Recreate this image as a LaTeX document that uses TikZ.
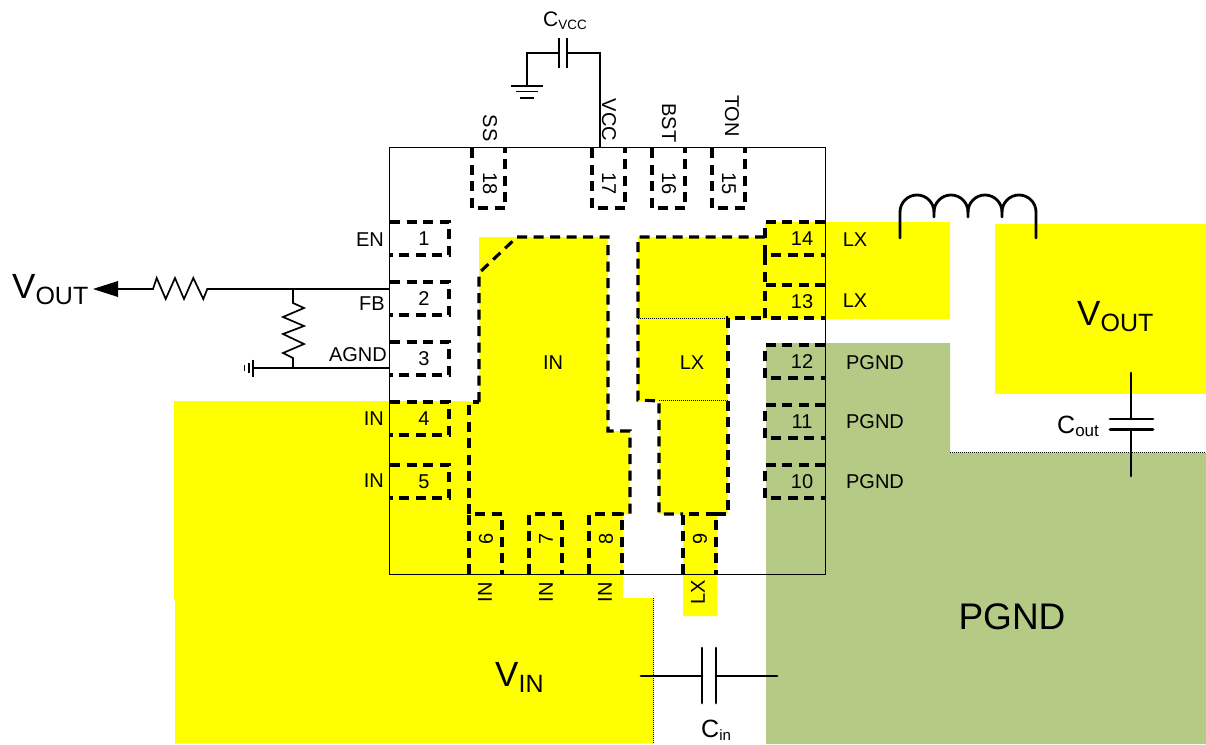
\documentclass[tikz,border=0pt]{standalone}
\usepackage{fontspec}
\setmainfont{Liberation Sans}
\definecolor{padyellow}{RGB}{255,255,0}
\definecolor{padgreen}{RGB}{181,202,133}
\newcommand{\fsz}[1]{\fontsize{#1}{#1}\selectfont}
\newcommand{\bigsub}[2]{{\fsz{35}#1}\raisebox{-6pt}{\fsz{25}#2}}
\tikzset{
  x=1pt,y=-1pt,
  pad/.style={line width=3.1pt,dash pattern=on 10pt off 6.5pt,line cap=butt,line join=miter},
  wire/.style={line width=1.7pt,line join=miter},
  heavy/.style={line width=2.8pt,line cap=round,line join=round},
  hair/.style={line width=0.5pt,dash pattern=on 1pt off 1pt},
  lab/.style={inner sep=0pt,font=\fsz{20}},
  labr/.style={lab,anchor=east},
  up/.style={lab,rotate=90},
  down/.style={lab,rotate=-90},
}
\begin{document}
\begin{tikzpicture}
\useasboundingbox (0,0) rectangle (1206,744);
% copper
\fill[padyellow] (174,401) -- (469,401) -- (469,514) -- (623,514) -- (623,598) -- (653,598) -- (653,743.5) -- (175,743.5) -- (175,600) -- (174,600) -- cycle;
\fill[padyellow] (479,237) -- (608,237) -- (608,431) -- (630,431) -- (630,514) -- (469,514) -- (469,402) -- (479,402) -- cycle;
\fill[padyellow] (765,222) -- (950,222) -- (950,319) -- (728,319) -- (728,514) -- (717,514) -- (717,616) -- (683,616) -- (683,514) -- (659,514) -- (659,401) -- (638,401) -- (638,237) -- (765,237) -- cycle;
\fill[padyellow] (995,224) rectangle (1206,394);
\fill[padgreen] (766,343) -- (950,343) -- (950,452.5) -- (1206,452.5) -- (1206,744) -- (766,744) -- cycle;
% hairlines
\draw[hair] (653,598) -- (653,744);
\draw[hair] (950,452.5) -- (1206,452.5);
\draw[hair] (638,318) -- (728,318);
\draw[hair] (659,400.5) -- (728,400.5);
% chip outline
\node[draw,line width=1.7pt,inner sep=0pt,minimum width=436pt,minimum height=427pt] (chip) at (607.5,361) {};
% pins
\draw[pad]
  (390,222) -- (449,222) -- (449,255) -- (390,255)
  (390,282) -- (449,282) -- (449,315) -- (390,315)
  (390,342) -- (449,342) -- (449,375) -- (390,375)
  (390,402) -- (449,402) -- (449,435) -- (390,435)
  (390,465) -- (449,465) -- (449,498) -- (390,498)
  (825,222) -- (765,222) -- (765,255) -- (825,255)
  (825,285) -- (765,285) -- (765,318) -- (825,318)
  (825,345) -- (765,345) -- (765,378) -- (825,378)
  (825,405) -- (765,405) -- (765,438) -- (825,438)
  (825,465) -- (765,465) -- (765,498) -- (825,498)
  (472,148) -- (472,208) -- (505,208) -- (505,148)
  (592,148) -- (592,208) -- (625,208) -- (625,148)
  (652,148) -- (652,208) -- (685,208) -- (685,148)
  (712,148) -- (712,208) -- (745,208) -- (745,148)
  (469,574) -- (469,514) -- (502,514) -- (502,574)
  (529,574) -- (529,514) -- (562,514) -- (562,574)
  (589,574) -- (589,514) -- (622,514) -- (622,574)
  (683,574) -- (683,514) -- (716,514) -- (716,574);
% exposed pad outlines
\draw[pad] (479,402) -- (479,273) -- (517,237) -- (608,237) -- (608,431) -- (630,431) -- (630,514) -- (622,514);
\draw[pad] (469,514) -- (469,402) -- (479,402);
\draw[pad] (765,237) -- (638,237) -- (638,400) -- (659,401) -- (659,514) -- (683,514);
\draw[pad] (716,514) -- (728,514) -- (728,318) -- (765,318);
\draw[pad] (765,255) -- (765,285);
% pin numbers
\node[lab] (p1) at (424,239) {1};
\node[lab] (p2) at (424,299) {2};
\node[lab] (p3) at (424,359) {3};
\node[lab] (p4) at (424,419) {4};
\node[lab] (p5) at (424,482) {5};
\node[lab] (p14) at (802,239) {14};
\node[lab] (p13) at (802,302) {13};
\node[lab] (p12) at (802,362) {12};
\node[lab] (p11) at (802,422) {11};
\node[lab] (p10) at (802,482) {10};
\node[down] (p18) at (490,184) {18};
\node[down] (p17) at (609,184) {17};
\node[down] (p16) at (669,184) {16};
\node[down] (p15) at (729,184) {15};
\node[up] (p6) at (486,539) {6};
\node[up] (p7) at (546,539) {7};
\node[up] (p8) at (606,539) {8};
\node[up] (p9) at (700,539) {9};
% pin names
\node[labr] (nEN) at (384,240) {EN};
\node[labr] (nFB) at (385,304) {FB};
\node[labr] (nAGND) at (387,355) {AGND};
\node[labr] (nIN4) at (384,419) {IN};
\node[labr] (nIN5) at (384,481) {IN};
\node[lab] (nLX14) at (855,240) {LX};
\node[lab] (nLX13) at (855,301) {LX};
\node[lab] (nPG12) at (875,363) {PGND};
\node[lab] (nPG11) at (875,422) {PGND};
\node[lab] (nPG10) at (875,482) {PGND};
\node[down] (nSS) at (490,128) {SS};
\node[down] (nVCC) at (609,120) {VCC};
\node[down] (nBST) at (669,123) {BST};
\node[down] (nTON) at (732,116) {TON};
\node[up] (nIN6) at (485,592) {IN};
\node[up] (nIN7) at (546,592) {IN};
\node[up] (nIN8) at (605,592) {IN};
\node[up] (nLX9) at (698,592) {LX};
\node[lab] (nIN) at (553,363) {IN};
\node[lab] (nLX) at (692,363) {LX};
% big labels
\node[inner sep=0pt,anchor=base west] (vout1) at (12,298) {\bigsub{V}{OUT}};
\node[inner sep=0pt,anchor=base west] (vout2) at (1077,325) {\bigsub{V}{OUT}};
\node[inner sep=0pt,anchor=base west] (vin) at (495,686) {\bigsub{V}{IN}};
\node[inner sep=0pt] (pgnd) at (1012,617) {\fsz{37}PGND};
\node[inner sep=0pt,anchor=base west] (cvcc) at (543,27) {{\fsz{21}C}\raisebox{-2pt}{\fsz{13.5}VCC}};
\node[inner sep=0pt,anchor=base west] (cout) at (1057,433) {{\fsz{25}C}\raisebox{-3pt}{\fsz{17}out}};
\node[inner sep=0pt,anchor=base west] (cin) at (701,737) {{\fsz{25}C}\raisebox{-3pt}{\fsz{15}in}};
% feedback network
\coordinate (fbpin) at (389.5,289);
\coordinate (agndpin) at (389.5,368);
\coordinate (fbj) at (293,289);
\coordinate (gndj) at (293,368);
\coordinate (rtop) at (207.3,289);
\coordinate (rbot) at (153,289);
\coordinate (tip) at (93,289);
\draw[wire] (fbpin) -- (fbj) -- (rtop)
  -- (203.3,299) -- (193.3,278) -- (184,299) -- (175,278) -- (165.7,299) -- (156.7,278) -- (rbot) -- (118,289);
\fill (tip) -- (118,281) -- (118,297) -- cycle;
\draw[wire] (fbj) -- (293,303) -- (304,308) -- (283,317) -- (304,326) -- (283,334) -- (304,344) -- (283,353) -- (293,358) -- (gndj);
\coordinate (gndl) at (253,368);
\draw[wire] (agndpin) -- (gndl);
\draw[wire] (253,359.5) -- (253,376.5);
\draw[wire] (249,363) -- (249,373);
\draw[wire] (244.5,365) -- (244.5,371);
% VCC capacitor
\coordinate (vccpin) at (600,147.5);
\coordinate (cv1) at (567,53);
\coordinate (cv2) at (559,53);
\coordinate (cvg) at (527,86);
\draw[wire] (vccpin) -- (600,53) -- (cv1);
\draw[wire] (cv2) -- (527,53) -- (cvg);
\draw[wire] (567,38) -- (567,68);
\draw[wire] (559,38) -- (559,68);
\draw[wire] (511,86) -- (543,86);
\draw[wire] (516,91.5) -- (538,91.5);
\draw[wire] (520,98) -- (534,98);
% inductor
\coordinate (la) at (900,238);
\coordinate (lb) at (1036,238);
\draw[heavy] (la) -- (900,212) arc[start angle=180,end angle=360,radius=17] -- (934,217);
\draw[heavy] (934,212) arc[start angle=180,end angle=360,radius=17] -- (968,217);
\draw[heavy] (968,212) arc[start angle=180,end angle=360,radius=17] -- (1002,217);
\draw[heavy] (1002,212) arc[start angle=180,end angle=360,radius=17] -- (lb);
% Cout
\coordinate (co1) at (1131,373);
\coordinate (co2) at (1131,476);
\draw[heavy] (co1) -- (1131,419);
\draw[heavy] (1131,429.5) -- (co2);
\draw[heavy] (1110,419) -- (1153,419);
\draw[heavy] (1110,429.5) -- (1153,429.5);
% Cin
\coordinate (ci1) at (641,676);
\coordinate (ci2) at (777,676);
\draw[heavy] (ci1) -- (702,676);
\draw[heavy] (716,676) -- (ci2);
\draw[heavy] (702,648) -- (702,703);
\draw[heavy] (716,648) -- (716,703);
\end{tikzpicture}
\end{document}
